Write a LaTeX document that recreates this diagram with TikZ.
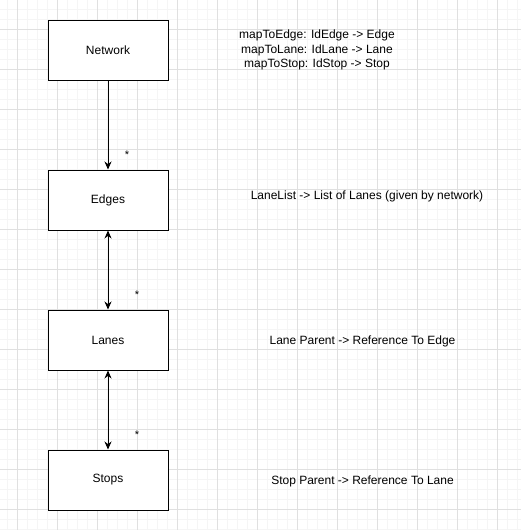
\documentclass[tikz,border=0pt]{standalone}
\usepackage{fontspec}
\setmainfont{Liberation Sans}
\usetikzlibrary{arrows.meta}
\definecolor{gridmajor}{HTML}{E0E0E0}
\definecolor{gridminor}{HTML}{F5F5F5}
\tikzset{
  entity/.style={shape=rectangle,draw=black,line width=1pt,fill=white,minimum width=120pt,minimum height=60pt,inner sep=0pt,font=\fontsize{12}{14}\selectfont},
  note/.style={inner sep=0pt,align=center,font=\fontsize{12}{14.5}\selectfont},
  mult/.style={inner sep=0pt,font=\fontsize{11}{12}\selectfont},
  link/.style={line width=1pt,-{Stealth[length=8pt,width=7pt]}},
  dlink/.style={line width=1pt,{Stealth[length=8pt,width=7pt]}-{Stealth[length=8pt,width=7pt]}}
}
\begin{document}
\begin{tikzpicture}[x=1pt,y=-1pt]
\useasboundingbox (0,0) rectangle (521,530);
\fill[white] (0,0) rectangle (521,530);
% grid
\foreach \x in {7,17,...,517} \draw[gridminor,line width=0.8pt] (\x,0) -- (\x,530);
\foreach \y in {9,19,...,529} \draw[gridminor,line width=0.8pt] (0,\y) -- (521,\y);
\foreach \x in {17,57,...,497} \draw[gridmajor,line width=0.8pt] (\x,0) -- (\x,530);
\foreach \y in {29,69,...,509} \draw[gridmajor,line width=0.8pt] (0,\y) -- (521,\y);
% boxes
\node (network) at (108,50) [entity] {\raisebox{-1pt}{Network}};
\node (edges) at (108,200) [entity] {\raisebox{-1pt}{Edges}};
\node (lanes) at (108,340) [entity] {\raisebox{-1pt}{Lanes}};
\node (stops) at (108,480) [entity] {\raisebox{-1pt}{Stops}};
% connectors
\draw[link] (network) -- (edges);
\draw[dlink] (edges) -- (lanes);
\draw[dlink] (lanes) -- (stops);
\node (m1) at (127,155) [mult] {*};
\node (m2) at (137,295) [mult] {*};
\node (m3) at (137,435) [mult] {*};
% notes
\node (maps) at (317,50) [note] {mapToEdge: IdEdge -> Edge\\mapToLane: IdLane -> Lane\\mapToStop: IdStop -> Stop};
\node (lanelist) at (367,196) [note] {LaneList -> List of Lanes (given by network)};
\node (laneparent) at (362.5,341) [note] {Lane Parent -> Reference To Edge};
\node (stopparent) at (362.5,481) [note] {Stop Parent -> Reference To Lane};
\end{tikzpicture}
\end{document}
